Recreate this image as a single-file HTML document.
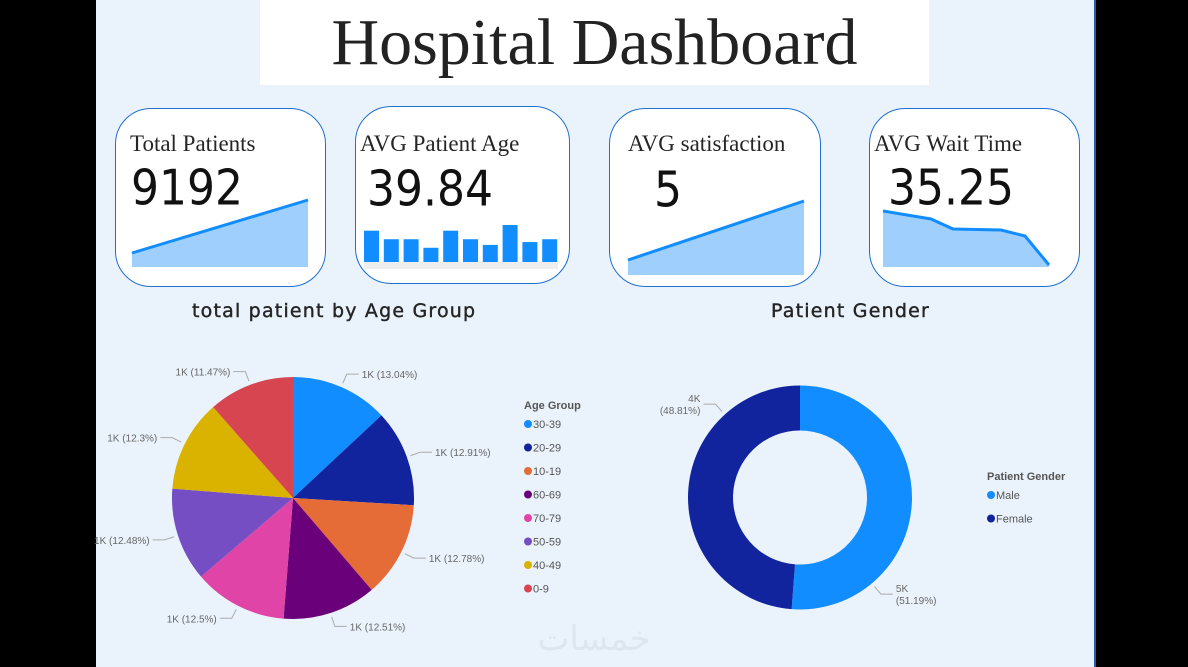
<!DOCTYPE html>
<html><head><meta charset="utf-8">
<style>
body{margin:0;width:1188px;height:667px;background:#000;overflow:hidden;font-family:"Liberation Sans",sans-serif}
#panel{position:absolute;left:96px;top:0;width:998px;height:667px;background:#EAF3FC}
#rb{position:absolute;left:1094px;top:0;width:2px;height:667px;background:#2a5caa}
#title{position:absolute;left:260px;top:0;width:669px;height:85px;background:#fff;text-align:center;font-family:"Liberation Serif",serif;font-size:66px;line-height:85px;color:#222}
.card{position:absolute;background:#fff;border:1px solid #1f6fd1;border-radius:36px;box-sizing:border-box;overflow:hidden}
.ct{position:absolute;font-family:"Liberation Serif",serif;font-size:23px;color:#252525;white-space:nowrap}
.cv{position:absolute;font-family:"DejaVu Sans",sans-serif;font-size:44px;color:#111;white-space:nowrap;transform:scaleY(1.12);transform-origin:0 50%}
.sec{position:absolute;font-family:"DejaVu Sans",sans-serif;font-size:19px;color:#252525;letter-spacing:1.2px;-webkit-text-stroke:0.4px #252525}
svg text{font-family:"Liberation Sans",sans-serif}
</style></head><body>
<div id="panel"></div>
<div id="rb"></div>
<div id="title">Hospital Dashboard</div>

<div class="card" style="left:115px;top:108px;width:211px;height:179px">
<div class="ct" style="left:14px;top:22px">Total Patients</div>
<div class="cv" style="left:15px;top:54px">9192</div>
<svg width="211" height="179" style="position:absolute;left:0;top:0"><polygon points="16,144 192,91 192,158 16,158" fill="#9FCFFC"/><polyline points="16,144 192,91" stroke="#118DFF" stroke-width="3" fill="none"/></svg>
</div>

<div class="card" style="left:355px;top:106px;width:215px;height:178px">
<div class="ct" style="left:4px;top:24px">AVG Patient Age</div>
<div class="cv" style="left:11px;top:57px">39.84</div>
<svg width="215" height="178" style="position:absolute;left:0;top:0" id="agebars"><rect x="8" y="155" width="194" height="7" fill="#eee"/></svg>
</div>

<div class="card" style="left:609px;top:108px;width:212px;height:179px">
<div class="ct" style="left:18px;top:22px">AVG satisfaction</div>
<div class="cv" style="left:44px;top:56px">5</div>
<svg width="212" height="179" style="position:absolute;left:0;top:0"><polygon points="18,151 194,92 194,166 18,166" fill="#9FCFFC"/><polyline points="18,151 194,92" stroke="#118DFF" stroke-width="3" fill="none"/></svg>
</div>

<div class="card" style="left:869px;top:108px;width:211px;height:179px">
<div class="ct" style="left:4px;top:22px">AVG Wait Time</div>
<div class="cv" style="left:18px;top:54px">35.25</div>
<svg width="211" height="179" style="position:absolute;left:0;top:0"><polygon points="13,102 61,110 83,120 131,121 155,127 179,156 179,158 13,158" fill="#9FCFFC"/><polyline points="13,102 61,110 83,120 131,121 155,127 179,156" stroke="#118DFF" stroke-width="3" fill="none"/></svg>
</div>

<div class="sec" style="left:192px;top:300px">total patient by Age Group</div>
<div class="sec" style="left:771px;top:300px">Patient Gender</div>

<svg id="charts" width="1188" height="667" style="position:absolute;left:0;top:0">
<text x="594" y="650" font-size="34" fill="#dde6ef" text-anchor="middle" font-family="DejaVu Sans">خمسات</text>
</svg>

<script>
const ageBars=[11,8,8,5,11,8,6,13,7,8];
const ageCats=["30-39","20-29","10-19","60-69","70-79","50-59","40-49","0-9"];
const agePcts=[13.04,12.91,12.78,12.51,12.5,12.48,12.3,11.47];
const ageLabels=["1K (13.04%)","1K (12.91%)","1K (12.78%)","1K (12.51%)","1K (12.5%)","1K (12.48%)","1K (12.3%)","1K (11.47%)"];
const ageColors=["#118DFF","#12239E","#E66C37","#6B007B","#E044A7","#744EC2","#D9B300","#D64550"];
const genderCats=["Male","Female"];
const genderPcts=[51.19,48.81];
const genderLabels=[["5K","(51.19%)"],["4K","(48.81%)"]];
const genderColors=["#118DFF","#12239E"];
const NS="http://www.w3.org/2000/svg";
function mk(p,t,a){const e=document.createElementNS(NS,t);for(const k in a)e.setAttribute(k,a[k]);p.appendChild(e);return e;}
const ab=document.getElementById('agebars');
const bmax=Math.max(...ageBars);
ageBars.forEach((v,i)=>{const h=v/bmax*37;const r=mk(ab,'rect',{x:8+i*19.8,y:155-h,width:15,height:h,fill:'#118DFF'});

});
const svg=document.getElementById('charts');
function arc(cx,cy,r,ri,a0,a1){const p=(a,rr)=>[cx+rr*Math.sin(a),cy-rr*Math.cos(a)];const lg=(a1-a0)>Math.PI?1:0;
const [x0,y0]=p(a0,r),[x1,y1]=p(a1,r);
if(!ri)return `M${cx},${cy}L${x0},${y0}A${r},${r} 0 ${lg} 1 ${x1},${y1}Z`;
const [x2,y2]=p(a1,ri),[x3,y3]=p(a0,ri);
return `M${x0},${y0}A${r},${r} 0 ${lg} 1 ${x1},${y1}L${x2},${y2}A${ri},${ri} 0 ${lg} 0 ${x3},${y3}Z`;}
function drawPie(cx,cy,r,ri,vals,cols,labels,multi,name,frac){
const tot=vals.reduce((a,b)=>a+b,0);let a=0;
vals.forEach((v,i)=>{const a1=a+v/tot*2*Math.PI;
const s=mk(svg,'path',{d:arc(cx,cy,r,ri,a,a1),fill:cols[i]});


const m=a+(a1-a)*frac,sx=Math.sin(m),cy2=-Math.cos(m);
const p1=[cx+(r+4)*sx,cy+(r+4)*cy2],p2=[cx+(r+14)*sx,cy+(r+14)*cy2];
const right=sx>=0;const p3=[p2[0]+(right?12:-12),p2[1]];
mk(svg,'polyline',{points:`${p1} ${p2} ${p3}`,fill:'none',stroke:'#aaa','stroke-width':1});
const lines=multi?labels[i]:[labels[i]];
const t=mk(svg,'text',{x:p3[0]+(right?3:-3),y:p3[1]+4-(lines.length-1)*6,'font-size':10,fill:'#666','text-anchor':right?'start':'end'});


lines.forEach((l,j)=>{const ts=mk(t,'tspan',{x:p3[0]+(right?3:-3),dy:j?12:0});ts.textContent=l;});
a=a1;});}
drawPie(293,498,121,0,agePcts,ageColors,ageLabels,false,'age-pie',0.5);
drawPie(800,497.5,112,67,genderPcts,genderColors,genderLabels,true,'gender-donut',0.76);
function legend(x,y,title,cats,cols,step,name){
const t=mk(svg,'text',{x:x,y:y,'font-size':11,'font-weight':'bold',fill:'#555'});t.textContent=title;


cats.forEach((c,i)=>{const yy=y+19+i*step;
const d=mk(svg,'circle',{cx:x+4,cy:yy-4,r:4,fill:cols[i]});


const l=mk(svg,'text',{x:x+9,y:yy,'font-size':11,fill:'#555'});l.textContent=c;

});}
legend(524,409,'Age Group',ageCats,ageColors,23.5,'age-legend');
legend(987,480,'Patient Gender',genderCats,genderColors,23.5,'gender-legend');
</script>
</body></html>
